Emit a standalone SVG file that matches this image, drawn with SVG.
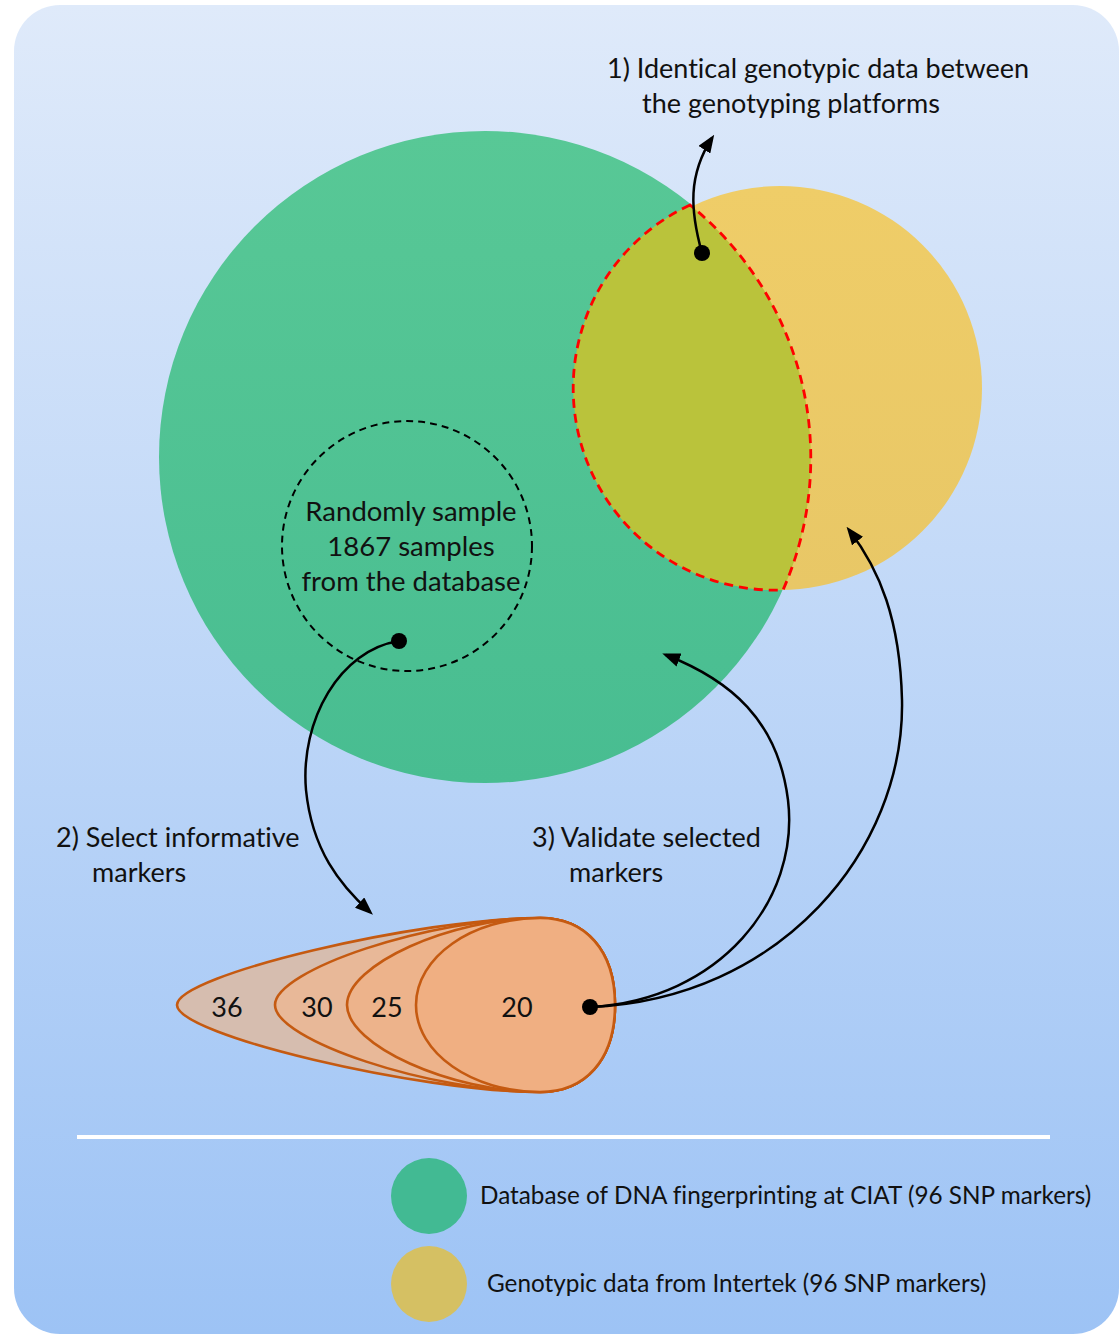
<svg xmlns="http://www.w3.org/2000/svg" width="1120" height="1334" viewBox="0 0 1120 1334">
<defs>
<linearGradient id="bg" x1="0" y1="0" x2="0" y2="1">
<stop offset="0" stop-color="#DFEAFA"/>
<stop offset="1" stop-color="#9DC3F5"/>
</linearGradient>
<linearGradient id="gr" x1="0" y1="0" x2="0" y2="1">
<stop offset="0" stop-color="#58C896"/>
<stop offset="1" stop-color="#48BD91"/>
</linearGradient>
<linearGradient id="ye" x1="0" y1="0" x2="0" y2="1">
<stop offset="0" stop-color="#EFCD68"/>
<stop offset="1" stop-color="#E8C766"/>
</linearGradient>
<marker id="ah" markerWidth="18" markerHeight="14" refX="14" refY="7" orient="auto" markerUnits="userSpaceOnUse">
<path d="M0,0 L18,7 L0,14 Z" fill="#000"/>
</marker>
<style>
text{font-family:Lato,"Liberation Sans",sans-serif;fill:#111;font-variant-ligatures:none;}
.lbl{font-size:27px;}
.smp{font-size:27.5px;text-anchor:middle;}
.num{font-size:27px;text-anchor:middle;}
.leg{font-size:24.3px;}
.con{fill:none;stroke:#000;stroke-width:2.5;marker-end:url(#ah);}
.egg{stroke:#C55A11;stroke-width:2.6;}
</style>
</defs>
<rect x="14" y="5" width="1105" height="1329" rx="46" fill="url(#bg)"/>
<g id="green-circle"><circle cx="485" cy="457" r="326" fill="url(#gr)"/></g>
<g id="yellow-circle"><circle cx="780" cy="388" r="202" fill="url(#ye)"/></g>
<g id="overlap"><path d="M690,205 A202,202 0 0 0 783,590 A326,326 0 0 0 690,205 Z" fill="#BAC33B" stroke="#FF0000" stroke-width="2.8" stroke-dasharray="9,6"/></g>
<g id="sample-circle">
<circle cx="407" cy="546" r="125" fill="none" stroke="#000" stroke-width="2" stroke-dasharray="7,5"/>
<text class="smp" x="411" y="521">Randomly sample</text>
<text class="smp" x="411" y="556">1867 samples</text>
<text class="smp" x="411" y="591">from the database</text>
</g>
<g id="marker-sets">
<path class="egg" fill="#D6BDAF" d="M540,918 C585,918 615,950 615,1005 C615,1060 585,1092 540,1092 C420,1092 177,1035 177,1005 C177,975 420,918 540,918 Z"/>
<path class="egg" fill="#E8B898" d="M540,918 C585,918 615,950 615,1005 C615,1060 585,1092 540,1092 C430,1092 275,1040 275,1005 C275,970 430,918 540,918 Z"/>
<path class="egg" fill="#EDB38B" d="M540,918 C585,918 615,950 615,1005 C615,1060 585,1092 540,1092 C450,1092 347,1045 347,1005 C347,965 450,918 540,918 Z"/>
<path class="egg" fill="#F0AF82" d="M540,918 C585,918 615,950 615,1005 C615,1060 585,1092 540,1092 C472,1092 416,1053 416,1005 C416,957 472,918 540,918 Z"/>
<text class="num" x="227" y="1017">36</text>
<text class="num" x="317" y="1017">30</text>
<text class="num" x="387" y="1017">25</text>
<text class="num" x="517" y="1017">20</text>
</g>
<g id="labels">
<text class="lbl" x="607" y="78">1) Identical genotypic data between</text>
<text class="lbl" x="642" y="113">the genotyping platforms</text>
<text class="lbl" x="56" y="847">2) Select informative</text>
<text class="lbl" x="92" y="882">markers</text>
<text class="lbl" x="532" y="847">3) Validate selected</text>
<text class="lbl" x="569" y="882">markers</text>
</g>
<g id="connectors">
<path class="con" d="M702,253 C690,210 688,175 712,138"/>
<path class="con" d="M399,641 C340,650 300,720 306,790 C312,850 340,885 370,912"/>
<path class="con" d="M590,1007 C720,1000 800,900 788,800 C778,720 730,680 666,655"/>
<path class="con" d="M590,1007 C780,1000 905,850 902,700 C900,620 880,570 849,530"/>
<circle cx="702" cy="253" r="8" fill="#000"/>
<circle cx="399" cy="641" r="8" fill="#000"/>
<circle cx="590" cy="1007" r="8" fill="#000"/>
</g>
<line x1="77" y1="1137" x2="1050" y2="1137" stroke="#FFFFFF" stroke-width="4"/>
<g id="legend">
<ellipse cx="429" cy="1196" rx="38" ry="38" fill="#42BA93"/>
<text class="leg" x="480" y="1204">Database of DNA fingerprinting at CIAT (96 SNP markers)</text>
<ellipse cx="429" cy="1284" rx="38" ry="38" fill="#D5C063"/>
<text class="leg" x="487" y="1292">Genotypic data from Intertek (96 SNP markers)</text>
</g>
</svg>
